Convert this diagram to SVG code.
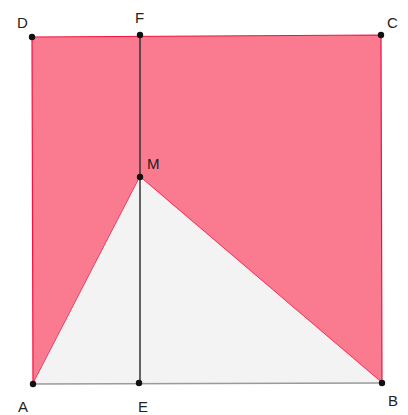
<svg xmlns="http://www.w3.org/2000/svg" width="408" height="415" viewBox="0 0 408 415">
<style>
.lbl{font-family:"Liberation Sans",Arial,sans-serif;font-size:15px;fill:#222}
.pt{fill:#111}
</style>
<rect width="408" height="415" fill="#fff"/>
<g id="shaded">
<polygon points="33,384 32,37 381,35 382,383 140,177" fill="#fa7b90" stroke="#f0133f" stroke-width="1.2"/>
</g>
<g id="triangle">
<polygon points="33,384 140,177 382,383" fill="#f3f3f3" stroke="none"/>
<line x1="33" y1="384" x2="382" y2="383" stroke="#9a9a9a" stroke-width="1.5"/>
</g>
<g id="connectors">
<line x1="140" y1="35" x2="140" y2="383" stroke="#333" stroke-width="1.5"/>
</g>
<g id="D"><circle class="pt" cx="32" cy="37" r="3.2"/><text class="lbl" x="17" y="28">D</text></g>
<g id="F"><circle class="pt" cx="140" cy="35" r="3.2"/><text class="lbl" x="135" y="23">F</text></g>
<g id="C"><circle class="pt" cx="381" cy="35" r="3.2"/><text class="lbl" x="387" y="28">C</text></g>
<g id="M"><circle class="pt" cx="140" cy="177" r="3.2"/><text class="lbl" x="147" y="169">M</text></g>
<g id="A"><circle class="pt" cx="33" cy="384" r="3.2"/><text class="lbl" x="18" y="412">A</text></g>
<g id="E"><circle class="pt" cx="139" cy="383" r="3.2"/><text class="lbl" x="138" y="412">E</text></g>
<g id="B"><circle class="pt" cx="382" cy="383" r="3.2"/><text class="lbl" x="388" y="406">B</text></g>
</svg>
